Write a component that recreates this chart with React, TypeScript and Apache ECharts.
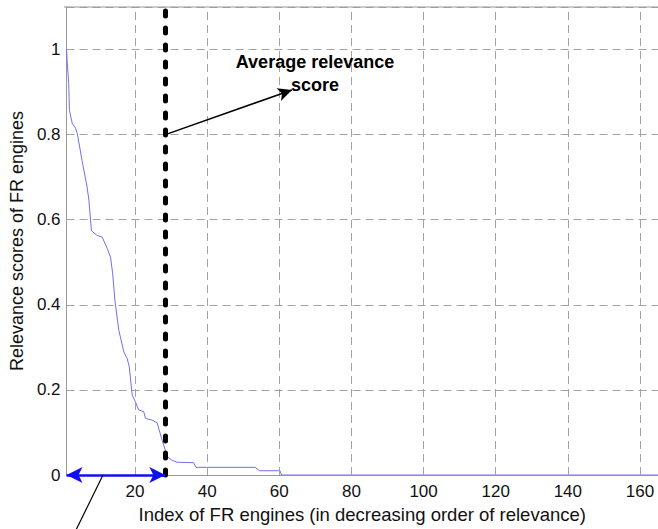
import React, { useEffect, useRef } from "react";
import * as echarts from "echarts";

// Relevance curve (index, score)
const engineIndex = [1, 1.2, 1.6, 1.8, 2.6, 3.5, 4, 5.3, 6.7, 7.2, 7.9, 8.3, 9.5, 10.9, 12.3, 13.2, 13.8, 14.4, 15.5, 16.9, 17.8, 18.4, 19.2, 20.1, 21, 22.4, 22.9, 24.7, 26.1, 27.5, 28.4, 28.9, 30.2, 31.6, 36.2, 36.9, 53.3, 54.5, 60.2, 60.6, 165];
const relevanceScore = [1.0, 0.97, 0.92, 0.857, 0.826, 0.815, 0.802, 0.739, 0.677, 0.646, 0.575, 0.571, 0.563, 0.559, 0.532, 0.512, 0.473, 0.411, 0.34, 0.289, 0.274, 0.254, 0.188, 0.172, 0.153, 0.149, 0.133, 0.129, 0.123, 0.082, 0.058, 0.043, 0.035, 0.03, 0.029, 0.018, 0.018, 0.01, 0.01, 0, 0];

const xTicks = [20, 40, 60, 80, 100, 120, 140, 160];
const averageIndex = 28.4;
const arrowStart = [28.4, 0.8];
const arrowEnd = [63.5, 0.905];
const annotationLines = ["Average relevance", "score"];

const FONT = "'Liberation Sans', Arial, Helvetica, sans-serif";
const GRID_COLOR = "#a3a3a3";
const TEXT = "#111";

export default function App() {
  const ref = useRef<HTMLDivElement>(null);
  useEffect(() => {
    if (!ref.current) return;
    const chart = echarts.init(ref.current, undefined, { renderer: "svg" });
    const curve = engineIndex.map((x, i) => [x, relevanceScore[i]]);
    chart.setOption({
      animation: false,
      backgroundColor: "#ffffff",
      grid: { left: 64, right: 0, top: 7, bottom: 54 },
      xAxis: {
        type: "value",
        min: 1,
        max: 165,
        name: "Index of FR engines (in decreasing order of relevance)",
        nameLocation: "middle",
        nameGap: 28,
        nameTextStyle: { fontFamily: FONT, fontSize: 18.5, color: TEXT },
        axisLine: { show: true, lineStyle: { color: "#999", width: 1 } },
        axisTick: { show: false },
        axisLabel: { customValues: xTicks, fontFamily: FONT, fontSize: 17, color: TEXT, margin: 8 },
        splitLine: { show: false },
      },
      yAxis: {
        type: "value",
        min: 0,
        max: 1.1,
        interval: 0.2,
        name: "Relevance scores of FR engines",
        nameLocation: "middle",
        nameGap: 32,
        nameTextStyle: { fontFamily: FONT, fontSize: 18, color: TEXT },
        axisLine: { show: true, lineStyle: { color: "#999", width: 1 } },
        axisTick: { show: false },
        axisLabel: { fontFamily: FONT, fontSize: 17, color: TEXT, margin: 6, showMaxLabel: false },
        splitLine: { show: true, lineStyle: { color: GRID_COLOR, type: [8, 5], width: 1 } },
      },
      series: [
        {
          type: "line",
          data: [],
          silent: true,
          markLine: {
            silent: true,
            symbol: ["none", "none"],
            label: { show: false },
            lineStyle: { color: GRID_COLOR, type: [8, 5], width: 1 },
            data: xTicks.map((v) => ({ xAxis: v })),
          },
          z: 1,
        },
        {
          type: "line",
          data: curve,
          showSymbol: false,
          lineStyle: { color: "#6f6ff2", width: 1 },
          itemStyle: { color: "#6f6ff2" },
          z: 3,
        },
        {
          type: "line",
          data: [],
          silent: true,
          z: 4,
          markLine: {
            silent: true,
            symbol: ["none", "none"],
            label: { show: false },
            lineStyle: { color: "#000", width: 5, type: [5, 12], cap: "round" },
            data: [{ xAxis: averageIndex }],
          },
        },
        {
          type: "line",
          data: [],
          silent: true,
          z: 5,
          markLine: {
            silent: true,
            label: { show: false },
            data: [
              [
                { coord: arrowStart, symbol: "none", lineStyle: { color: "#000", width: 1.5, type: "solid" } },
                { coord: arrowEnd, symbol: "arrow", symbolSize: [10, 14] },
              ],
              [
                { coord: [1, 0], symbol: "arrow", symbolSize: [12, 16], lineStyle: { color: "#1010ee", width: 2.5, type: "solid" } },
                { coord: [averageIndex, 0], symbol: "arrow", symbolSize: [12, 16] },
              ],
            ],
          },
        },
      ],
      graphic: [
        { type: "line", shape: { x1: 64, y1: 7, x2: 658, y2: 7 }, style: { stroke: "#999", lineWidth: 1 }, z: 10 },
        { type: "line", shape: { x1: 103, y1: 475, x2: 76, y2: 530 }, style: { stroke: "#000", lineWidth: 1.2 }, z: 10 },
        {
          type: "text",
          x: 315,
          y: 62,
          style: { text: annotationLines[0], fontFamily: FONT, fontSize: 18, fontWeight: "bold", fill: "#000", align: "center", verticalAlign: "middle" },
          z: 10,
        },
        {
          type: "text",
          x: 315,
          y: 85,
          style: { text: annotationLines[1], fontFamily: FONT, fontSize: 18, fontWeight: "bold", fill: "#000", align: "center", verticalAlign: "middle" },
          z: 10,
        },
      ],
    });
    return () => chart.dispose();
  }, []);
  return <div ref={ref} style={{ width: 658, height: 529, position: "absolute", left: 0, top: 0 }} />;
}
